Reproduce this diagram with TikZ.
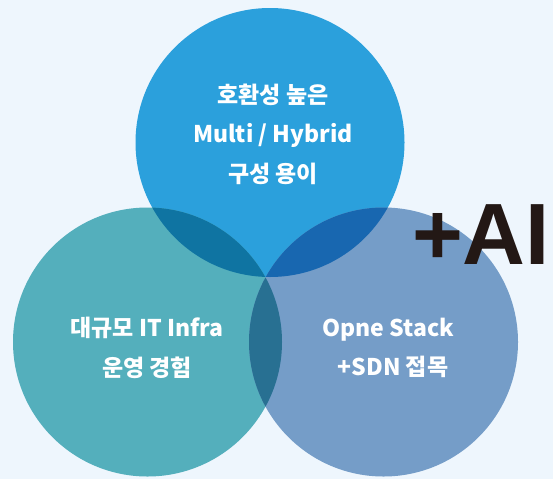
\documentclass[tikz,border=0pt]{standalone}
\usepackage{fontspec}
\setmainfont{Liberation Sans}
\newfontfamily\kr{Noto Sans CJK KR}
\definecolor{bgc}{HTML}{EEF6FD}
\definecolor{ctop}{HTML}{2BA0DC}
\definecolor{cleft}{HTML}{54AFBC}
\definecolor{cright}{HTML}{759DC8}
\definecolor{ctl}{HTML}{0F74A2}
\definecolor{ctr}{HTML}{1867B0}
\definecolor{clr}{HTML}{287092}
\definecolor{aic}{HTML}{231815}
\begin{document}
\begin{tikzpicture}[x=1pt,y=-1pt,
  lbl/.style={text=white,align=center,font=\kr\bfseries\fontsize{23}{39.5}\selectfont,inner sep=0pt},
  ai/.style={text=aic,font=\bfseries\fontsize{87}{87}\selectfont,inner sep=0pt}]
\fill[bgc] (0,0) rectangle (553,479);
\useasboundingbox (0,0) rectangle (553,479);
\coordinate (T) at (270,142.5);
\coordinate (L) at (147.5,342);
\coordinate (R) at (383.5,342);
\def\rad{134.5pt}
\fill[ctop] (T) circle[radius=\rad];
\fill[cleft] (L) circle[radius=\rad];
\fill[cright] (R) circle[radius=\rad];
\begin{scope}
  \clip (T) circle[radius=\rad];
  \fill[ctl] (L) circle[radius=\rad];
  \fill[ctr] (R) circle[radius=\rad];
\end{scope}
\begin{scope}
  \clip (L) circle[radius=\rad];
  \fill[clr] (R) circle[radius=\rad];
\end{scope}
\node[lbl] (tt) at (273,134) {호환성 높은\\Multi / Hybrid\\구성 용이};
\node[lbl] (lt) at (147,348) {대규모 IT Infra\\운영 경험};
\node[lbl] (rt) at (388,348) {Opne Stack\\\hspace*{10pt}+SDN 접목};
\node[ai] (ai) at (481,235) {+AI};
\end{tikzpicture}
\end{document}
